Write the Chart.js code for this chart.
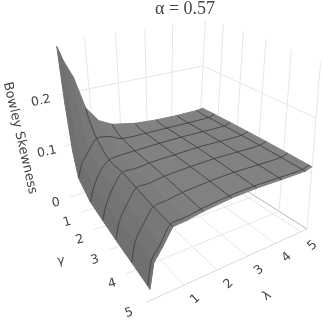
<!DOCTYPE html>
<html>
<head>
<meta charset="utf-8">
<style>
  body { margin: 0; background: #fff; }
  canvas { display: block; }
</style>
</head>
<body>
<canvas id="surface" width="324" height="324"></canvas>
<script src="https://cdn.jsdelivr.net/npm/chart.js@4"></script>
<script>
// values
const gammaGrid = [0.1, 0.25, 0.5, 0.8, 1.65, 2.5, 3.3, 4.15, 4.9, 5];
const lambdaGrid = [0.1, 0.25, 0.5, 0.8, 1.2, 1.65, 2.5, 3.3, 4.15, 5, 5.25];
const skewness = [
  [0.295, 0.265, 0.23, 0.165, 0.135, 0.122, 0.113, 0.11, 0.109, 0.11, 0.112],
  [0.19, 0.18, 0.17, 0.15, 0.13, 0.117, 0.11, 0.109, 0.108, 0.109, 0.112],
  [0.1, 0.115, 0.14, 0.135, 0.125, 0.112, 0.107, 0.107, 0.107, 0.108, 0.112],
  [0.056, 0.08, 0.1, 0.12, 0.118, 0.108, 0.107, 0.107, 0.107, 0.108, 0.112],
  [0.036, 0.06, 0.085, 0.1, 0.103, 0.104, 0.106, 0.107, 0.107, 0.108, 0.112],
  [0.03, 0.055, 0.08, 0.1, 0.1, 0.103, 0.105, 0.107, 0.107, 0.108, 0.112],
  [0.025, 0.053, 0.076, 0.097, 0.098, 0.102, 0.105, 0.107, 0.107, 0.108, 0.112],
  [0.021, 0.052, 0.073, 0.094, 0.097, 0.101, 0.105, 0.107, 0.107, 0.108, 0.112],
  [0.017, 0.052, 0.07, 0.094, 0.096, 0.1, 0.105, 0.107, 0.107, 0.108, 0.112],
  [0.016, 0.052, 0.07, 0.094, 0.096, 0.1, 0.105, 0.107, 0.107, 0.108, 0.112]
];
const gammaTicks = [1, 2, 3, 4, 5];
const lambdaTicks = [1, 2, 3, 4, 5];
const zTicks = [0, 0.1, 0.2];
const meshGamma = [0.8, 1.65, 2.5, 3.3, 4.15, 4.9];
const meshLambda = [0.8, 1.65, 2.5, 3.3, 4.15, 5];
const stripColors = ['#707070', '#747474', '#787878', '#7c7c7c', '#7f7f7f', '#818181', '#828282', '#828282', '#828282', '#828282'];

const GAMMA_MAX = 5, LAMBDA_MAX = 5.25, Z_TOP = 0.3;

// floor corners and how far z = 1 moves each of them on screen
const L = [70, 197], B = [147, 302], R = [307, 229], K = [198, 160];
const liftL = [-60, -510], liftB = [-55, -675], liftR = [45, -555], liftK = [25, -470];

const sx = L[0] - B[0] + R[0] - K[0], sy = L[1] - B[1] + R[1] - K[1];
const dx1 = B[0] - R[0], dx2 = K[0] - R[0], dy1 = B[1] - R[1], dy2 = K[1] - R[1];
const den = dx1 * dy2 - dx2 * dy1;
const hg = (sx * dy2 - dx2 * sy) / den, hh = (dx1 * sy - sx * dy1) / den;

function project(gamma, lambda, z) {
  const s = gamma / GAMMA_MAX, t = lambda / LAMBDA_MAX;
  const w = hg * s + hh * t + 1;
  const fx = ((B[0] - L[0] + hg * B[0]) * s + (K[0] - L[0] + hh * K[0]) * t + L[0]) / w;
  const fy = ((B[1] - L[1] + hg * B[1]) * s + (K[1] - L[1] + hh * K[1]) * t + L[1]) / w;
  const lift = i => (1 - s) * (1 - t) * liftL[i] + s * (1 - t) * liftB[i] + s * t * liftR[i] + (1 - s) * t * liftK[i];
  return { x: fx + z * lift(0), y: fy + z * lift(1) };
}

const rowPoints = i => lambdaGrid.map((l, j) => project(gammaGrid[i], l, skewness[i][j]));
const colPoints = j => gammaGrid.map((g, i) => project(g, lambdaGrid[j], skewness[i][j]));

function line(data, color, width, tension) {
  return { data: data, borderColor: color, borderWidth: width, tension: tension || 0, showLine: true, pointRadius: 0, fill: false };
}

const datasets = [];

// mesh on top
meshGamma.forEach(g => datasets.push(line(rowPoints(gammaGrid.indexOf(g)), '#3c3c3c', 0.85, 0.3)));
meshLambda.forEach(l => datasets.push(line(colPoints(lambdaGrid.indexOf(l)), '#3c3c3c', 0.85, 0.3)));

// surface, one closed strip between neighbouring lambda columns
stripColors.forEach((color, j) => {
  const outline = colPoints(j).concat(colPoints(j + 1).reverse());
  outline.push(outline[0]);
  const ds = line(outline, color, 1, 0);
  ds.surfaceFill = color;
  datasets.push(ds);
});

// walls and floor
const gridColor = '#e6e6e6';
const wallLambdas = [1, 2, 3, 4];
wallLambdas.forEach(l => datasets.push(line([project(0, l, 0), project(0, l, Z_TOP)], gridColor, 1)));
gammaTicks.slice(0, 4).forEach(g => datasets.push(line([project(g, LAMBDA_MAX, 0), project(g, LAMBDA_MAX, Z_TOP)], gridColor, 1)));
datasets.push(line([project(0, LAMBDA_MAX, 0), project(0, LAMBDA_MAX, Z_TOP)], gridColor, 1));
datasets.push(line([project(5, LAMBDA_MAX, 0), project(5, LAMBDA_MAX, Z_TOP)], gridColor, 1));
zTicks.slice(1).forEach(z => {
  datasets.push(line([project(0, 0, z), project(0, LAMBDA_MAX, z), project(5, LAMBDA_MAX, z)], gridColor, 1));
});
gammaTicks.forEach(g => datasets.push(line([project(g, 0, 0), project(g, LAMBDA_MAX, 0)], g === 5 ? '#d8d8d8' : gridColor, 1)));
lambdaTicks.forEach(l => datasets.push(line([project(0, l, 0), project(5, l, 0)], gridColor, 1)));
datasets.push(line([project(0, LAMBDA_MAX, 0), project(5, LAMBDA_MAX, 0)], '#b4b4b4', 1));
datasets.push(line([project(0, 0, 0), project(0, LAMBDA_MAX, 0)], gridColor, 1));

const tickFont = '12.5px "DejaVu Sans"';

const surfacePlugin = {
  id: 'surfacePlugin',
  beforeDatasetDraw(chart, args) {
    const color = chart.data.datasets[args.index].surfaceFill;
    if (!color) return;
    const ctx = chart.ctx;
    ctx.save();
    ctx.beginPath();
    args.meta.dataset.path(ctx);
    ctx.closePath();
    ctx.fillStyle = color;
    ctx.fill();
    ctx.restore();
  },
  afterDatasetsDraw(chart) {
    const ctx = chart.ctx, xs = chart.scales.x, ys = chart.scales.y;
    const put = (text, pt, dx, dy, angle, font, color) => {
      ctx.save();
      ctx.translate(xs.getPixelForValue(pt.x) + dx, ys.getPixelForValue(pt.y) + dy);
      ctx.rotate(angle * Math.PI / 180);
      ctx.font = font || tickFont;
      ctx.fillStyle = color || '#444';
      ctx.textAlign = 'center';
      ctx.textBaseline = 'middle';
      ctx.fillText(text, 0, 0);
      ctx.restore();
    };
    zTicks.forEach(z => put(String(z), project(0, 0, z), z ? -17 : -14, 6, -12));
    gammaTicks.slice(0, 4).forEach(g => put(String(g), project(g, 0, 0), -14, 10, -16));
    put('5', project(5, 0, 0), -18, 11, -18);
    lambdaTicks.forEach(l => put(String(l), project(5, l, 0), 11.5, 14, -42));
    put('γ', { x: 61, y: 261 }, 0, 0, -5);
    put('λ', { x: 267, y: 296 }, 0, 0, -35);
    put('Bowley Skewness', { x: 20, y: 138 }, 0, 0, 77, '13px "DejaVu Sans"');
    put('α = 0.57', { x: 185, y: 9 }, 0, 0, 0, '18px "Liberation Serif"', '#444');
  }
};

new Chart(document.getElementById('surface'), {
  type: 'scatter',
  data: { datasets: datasets },
  options: {
    responsive: false,
    animation: false,
    layout: { padding: 0 },
    clip: false,
    scales: {
      x: { type: 'linear', min: 0, max: 324, display: false },
      y: { type: 'linear', min: 0, max: 324, reverse: true, display: false }
    },
    plugins: { legend: { display: false }, tooltip: { enabled: false } }
  },
  plugins: [surfacePlugin]
});
</script>
</body>
</html>
